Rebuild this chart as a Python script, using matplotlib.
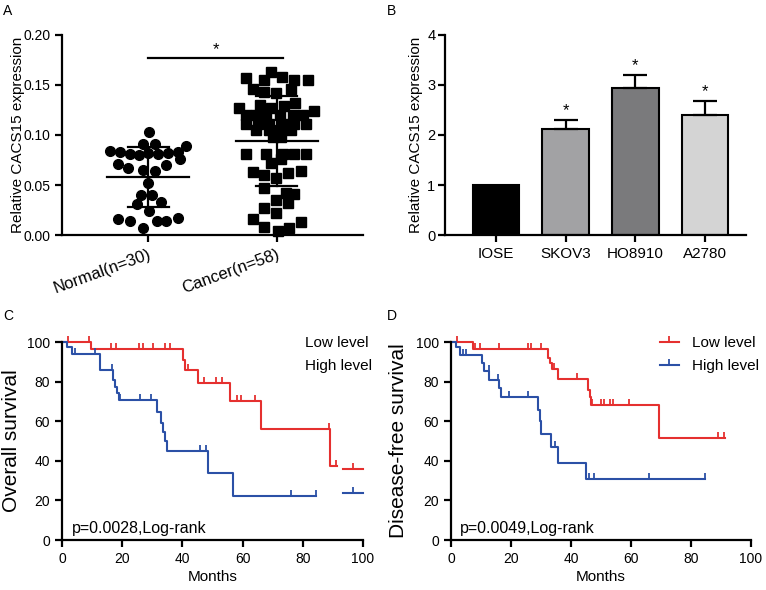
import numpy as np
import matplotlib
matplotlib.use('Agg')
import matplotlib.pyplot as plt
from matplotlib.path import Path
from matplotlib.lines import Line2D

plt.rcParams['font.family'] = ['Liberation Sans', 'DejaVu Sans']

# ── Panel A: scatter (value, horizontal offset from group centre) ────────────
normal_vals = [0.103, 0.091, 0.091, 0.089, 0.084, 0.083, 0.081, 0.080, 0.082,
               0.081, 0.082, 0.083, 0.076, 0.071, 0.067, 0.065, 0.064, 0.070,
               0.052, 0.040, 0.040, 0.031, 0.033, 0.024, 0.016, 0.014, 0.007,
               0.014, 0.014, 0.017]
normal_off = [0.005, -0.044, 0.052, 0.297, -0.297, -0.22, -0.142, -0.07, 0.0,
              0.078, 0.155, 0.233, 0.245, -0.233, -0.155, -0.039, 0.052, 0.142,
              0.0, -0.052, 0.026, -0.09, 0.098, 0.005, -0.233, -0.142, -0.044,
              0.065, 0.142, 0.233]
cancer_vals = [0.163, 0.157, 0.155, 0.158, 0.155, 0.155,
               0.146, 0.143, 0.142, 0.146, 0.127,
               0.130, 0.127, 0.129, 0.132, 0.124,
               0.120, 0.120, 0.120, 0.120, 0.120, 0.120,
               0.111, 0.111, 0.111, 0.111, 0.111, 0.111,
               0.105, 0.105, 0.105, 0.105, 0.098, 0.098,
               0.081, 0.081, 0.081, 0.081, 0.081, 0.076, 0.072,
               0.063, 0.060, 0.062, 0.064, 0.057,
               0.047, 0.042, 0.041, 0.035, 0.032, 0.027, 0.022,
               0.016, 0.013, 0.008, 0.004, 0.007]
cancer_off = [-0.044, -0.238, -0.096, 0.041, 0.137, 0.240,
              -0.186, -0.096, -0.005, 0.111, -0.295,
              -0.134, -0.044, 0.059, 0.142, 0.287,
              -0.238, -0.160, -0.083, 0.021, 0.124, 0.207,
              -0.238, -0.147, -0.057, 0.047, 0.137, 0.227,
              -0.160, -0.057, 0.021, 0.111, -0.031, 0.034,
              -0.238, -0.083, 0.047, 0.137, 0.227, 0.034, -0.044,
              -0.186, -0.096, 0.085, 0.189, -0.005,
              -0.096, 0.072, 0.137, -0.005, 0.085, -0.096, -0.005,
              -0.186, 0.189, -0.096, 0.008, 0.093]
groups = ['Normal(n=30)', 'Cancer(n=58)']

# ── Panel B: bars ────────────────────────────────────────────────────────────
cells = ['IOSE', 'SKOV3', 'HO8910', 'A2780']
cell_mean = [1.0, 2.13, 2.95, 2.40]
cell_err = [0.0, 0.17, 0.25, 0.28]
cell_sig = ['', '*', '*', '*']
cell_col = ['#000000', '#a2a2a4', '#7a7a7c', '#d4d4d4']

# ── Panel C: overall survival (event times, survival after event, censors) ──
os_low_t = [9.8, 40.1, 40.7, 45.3, 55.8, 66.1, 89.0]
os_low_s = [96.5, 90.9, 85.9, 79.3, 70.2, 56.1, 37.4]
os_low_end = 91.2
os_low_cens = [2.1, 9.1, 16.3, 17.9, 25.7, 26.8, 30.1, 34.2, 35.8, 41.8,
               47.1, 51.1, 53.3, 58.0, 59.4, 64.1, 88.7, 91.0]
os_high_t = [1.8, 3.2, 12.6, 17.0, 17.6, 18.2, 18.8, 31.6, 33.0, 33.6, 34.2,
             34.8, 48.6, 56.8]
os_high_s = [97.5, 93.8, 86.0, 81.0, 77.5, 74.0, 70.6, 64.5, 59.0, 54.5,
             50.0, 45.0, 33.6, 22.2]
os_high_end = 84.5
os_high_cens = [4.3, 11.0, 16.5, 19.3, 26.0, 29.5, 45.9, 48.0, 76.0, 84.5]
# stray key segments drawn at the right edge of panel C
os_key_x = [93.5, 100.0]
os_key_tick = 96.7
os_key_low = 36.0
os_key_high = 23.5

# ── Panel D: disease-free survival ──────────────────────────────────────────
dfs_low_t = [7.4, 32.3, 33.0, 33.7, 35.8, 45.8, 46.2, 46.7, 69.2]
dfs_low_s = [96.7, 92.0, 89.3, 86.6, 81.4, 75.6, 72.3, 68.4, 51.6]
dfs_low_end = 91.4
dfs_low_cens = [1.9, 8.1, 9.8, 16.1, 25.8, 26.7, 30.0, 34.4, 41.9, 47.0,
                50.0, 50.9, 53.1, 53.9, 59.4, 88.9, 91.1]
dfs_high_t = [1.5, 3.0, 10.3, 10.9, 12.8, 16.1, 16.8, 28.9, 29.5, 30.1,
              33.4, 35.8, 45.0]
dfs_high_s = [97.5, 93.3, 89.5, 85.6, 81.0, 76.7, 72.0, 65.5, 60.0, 53.3,
              47.0, 38.7, 30.8]
dfs_high_end = 84.6
dfs_high_cens = [3.9, 5.0, 12.5, 15.6, 19.2, 25.6, 34.7, 46.1, 47.8, 66.1,
                 84.6]

RED = '#e5302f'
BLUE = '#2b50a6'
W, H = 766, 590

fig = plt.figure(figsize=(W / 100, H / 100), dpi=100)


def px_axes(left, top, right, bottom):
    return fig.add_axes([left / W, 1 - bottom / H, (right - left) / W,
                         (bottom - top) / H])


def style(ax, lw=1.6):
    for s in ['top', 'right']:
        ax.spines[s].set_visible(False)
    for s in ['left', 'bottom']:
        ax.spines[s].set_linewidth(lw)
    ax.tick_params(width=lw, length=5, color='black')


# ── A ───────────────────────────────────────────────────────────────────────
ax = px_axes(62, 35, 363, 235)
style(ax)
for i, (vals, off, mk) in enumerate([(normal_vals, normal_off, 'o'),
                                     (cancer_vals, cancer_off, 's')]):
    vals = np.array(vals)
    ax.plot(i + np.array(off), vals, mk, color='black', ms=7, ls='none',
            clip_on=False, zorder=3)
    m, sd = vals.mean(), vals.std(ddof=1)
    ax.plot([i - 0.32, i + 0.32], [m, m], color='black', lw=1.6, zorder=4)
    ax.plot([i - 0.16, i + 0.16], [m + sd, m + sd], color='black', lw=1.6, zorder=4)
    ax.plot([i - 0.16, i + 0.16], [m - sd, m - sd], color='black', lw=1.6, zorder=4)
    ax.plot([i, i], [m - sd, m + sd], color='black', lw=1.6, zorder=4)
ax.plot([0, 1.05], [0.1767, 0.1767], color='black', lw=1.6)
ax.text(0.525, 0.1775, '*', ha='center', va='bottom', fontsize=12)
ax.set_xlim(-0.67, 1.67)
ax.set_ylim(0, 0.2)
ax.set_yticks([0, 0.05, 0.10, 0.15, 0.20])
ax.set_yticklabels(['0.00', '0.05', '0.10', '0.15', '0.20'], fontsize=10)
ax.set_xticks([0, 1])
ax.set_xticklabels(groups, fontsize=12, rotation=20, ha='right',
                   rotation_mode='anchor')
ax.set_ylabel('Relative CACS15 expression', fontsize=11)
ax.yaxis.set_label_coords(-0.123, 0.5)
fig.text(3 / W, 1 - 11 / H, 'A', fontsize=10, va='center', ha='left')

# ── B ───────────────────────────────────────────────────────────────────────
ax = px_axes(445, 35, 746, 235)
style(ax)
x = np.arange(len(cells))
ax.bar(x, cell_mean, width=0.67, color=cell_col, edgecolor='black',
       linewidth=1.5, zorder=2)
ax.errorbar(x[1:], cell_mean[1:], yerr=[np.zeros(3), cell_err[1:]], fmt='none',
            ecolor='black', elinewidth=1.6, capsize=8.5, capthick=1.6, zorder=3)
for xi, m, e, s in zip(x, cell_mean, cell_err, cell_sig):
    ax.text(xi, m + e + 0.04, s, ha='center', va='bottom', fontsize=12)
ax.set_xlim(-0.73, 3.59)
ax.set_ylim(0, 4)
ax.set_yticks([0, 1, 2, 3, 4])
ax.tick_params(axis='y', labelsize=10.5, pad=2)
ax.set_xticks(x)
ax.set_xticklabels(cells, fontsize=11)
ax.set_ylabel('Relative CACS15 expression', fontsize=11)
ax.yaxis.set_label_coords(-0.072, 0.5)
fig.text(387 / W, 1 - 11 / H, 'B', fontsize=10, va='center', ha='left')

# ── KM helpers ──────────────────────────────────────────────────────────────
tick_mark = Path([(0, 0), (0, 1)], [Path.MOVETO, Path.LINETO])


def km(ax, t, s, end, cens, color):
    xs = np.concatenate([[0], t, [end]])
    ys = np.concatenate([[100], s, [s[-1]]])
    ax.step(xs, ys, where='post', color=color, lw=1.5, clip_on=False)
    cens = np.array(cens)
    idx = np.searchsorted(xs, cens, side='right') - 1
    ax.plot(cens, ys[idx], ls='none', marker=tick_mark, ms=9,
            mec=color, mew=1.3, clip_on=False)


def km_axes(ax, ylabel):
    style(ax)
    ax.set_xlim(0, 100)
    ax.set_ylim(0, 100)
    ax.set_xticks(range(0, 101, 20))
    ax.set_yticks(range(0, 101, 20))
    ax.tick_params(labelsize=10)
    ax.set_xlabel('Months', fontsize=11, labelpad=3)
    ax.set_ylabel(ylabel, fontsize=15)


# ── C ───────────────────────────────────────────────────────────────────────
ax = px_axes(62, 342, 363, 540)
km_axes(ax, 'Overall survival')
ax.yaxis.set_label_coords(-0.135, 0.5)
km(ax, os_low_t, os_low_s, os_low_end, os_low_cens, RED)
km(ax, os_high_t, os_high_s, os_high_end, os_high_cens, BLUE)
for yk, c in [(os_key_low, RED), (os_key_high, BLUE)]:
    ax.plot(os_key_x, [yk, yk], color=c, lw=1.5, clip_on=False)
    ax.plot([os_key_tick], [yk], ls='none', marker=tick_mark, ms=9, mec=c,
            mew=1.3, clip_on=False)
ax.text(0.807, 0.995, 'Low level', transform=ax.transAxes, fontsize=11,
        va='center', ha='left')
ax.text(0.807, 0.88, 'High level', transform=ax.transAxes, fontsize=11,
        va='center', ha='left')
ax.text(0.033, 0.06, 'p=0.0028,Log-rank', transform=ax.transAxes,
        fontsize=11.5, va='center', ha='left')
fig.text(3 / W, 1 - 316 / H, 'C', fontsize=10, va='center', ha='left')

# ── D ───────────────────────────────────────────────────────────────────────
ax = px_axes(451, 342, 751, 540)
km_axes(ax, 'Disease-free survival')
ax.yaxis.set_label_coords(-0.145, 0.5)
km(ax, dfs_low_t, dfs_low_s, dfs_low_end, dfs_low_cens, RED)
km(ax, dfs_high_t, dfs_high_s, dfs_high_end, dfs_high_cens, BLUE)
handles = [Line2D([], [], color=c, lw=1.5, marker=tick_mark, ms=9, mec=c,
                  mew=1.3) for c in (RED, BLUE)]
ax.legend(handles, ['Low level', 'High level'], loc='upper left',
          bbox_to_anchor=(0.695, 1.03), frameon=False, fontsize=11,
          handlelength=1.3, handletextpad=0.8, labelspacing=0.58,
          borderpad=0, borderaxespad=0)
ax.text(0.03, 0.06, 'p=0.0049,Log-rank', transform=ax.transAxes,
        fontsize=11.5, va='center', ha='left')
fig.text(387 / W, 1 - 316 / H, 'D', fontsize=10, va='center', ha='left')

fig.savefig('out.png', dpi=100)
